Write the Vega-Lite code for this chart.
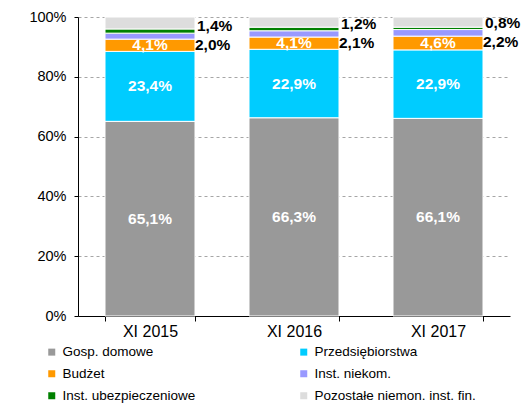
{
  "$schema": "https://vega.github.io/schema/vega-lite/v6.json",
  "autosize": {"type": "none"},
  "width": 432,
  "height": 299,
  "padding": {"left": 78, "top": 17, "right": 21, "bottom": 87},
  "background": "white",
  "title": {"text": "Struktura depozytów", "font": "Liberation Sans", "fontSize": 16, "fontWeight": "bold", "color": "black", "anchor": "middle", "dx": -37, "offset": 3, "baseline": "alphabetic"},
  "config": {"view": {"stroke": null}, "font": "Liberation Sans"},
  "data": {"values": [
    {"period": "XI 2015", "series": "Gosp. domowe", "ord": 1, "value": 65.1, "label": "65,1%"},
    {"period": "XI 2015", "series": "Przedsiębiorstwa", "ord": 2, "value": 23.4, "label": "23,4%"},
    {"period": "XI 2015", "series": "Budżet", "ord": 3, "value": 4.1, "label": "4,1%"},
    {"period": "XI 2015", "series": "Inst. niekom.", "ord": 4, "value": 2.0, "label": "2,0%"},
    {"period": "XI 2015", "series": "Inst. ubezpieczeniowe", "ord": 5, "value": 1.4, "label": "1,4%"},
    {"period": "XI 2015", "series": "Pozostałe niemon. inst. fin.", "ord": 6, "value": 4.0, "label": ""},
    {"period": "XI 2016", "series": "Gosp. domowe", "ord": 1, "value": 66.3, "label": "66,3%"},
    {"period": "XI 2016", "series": "Przedsiębiorstwa", "ord": 2, "value": 22.9, "label": "22,9%"},
    {"period": "XI 2016", "series": "Budżet", "ord": 3, "value": 4.1, "label": "4,1%"},
    {"period": "XI 2016", "series": "Inst. niekom.", "ord": 4, "value": 2.1, "label": "2,1%"},
    {"period": "XI 2016", "series": "Inst. ubezpieczeniowe", "ord": 5, "value": 1.2, "label": "1,2%"},
    {"period": "XI 2016", "series": "Pozostałe niemon. inst. fin.", "ord": 6, "value": 3.4, "label": ""},
    {"period": "XI 2017", "series": "Gosp. domowe", "ord": 1, "value": 66.1, "label": "66,1%"},
    {"period": "XI 2017", "series": "Przedsiębiorstwa", "ord": 2, "value": 22.9, "label": "22,9%"},
    {"period": "XI 2017", "series": "Budżet", "ord": 3, "value": 4.6, "label": "4,6%"},
    {"period": "XI 2017", "series": "Inst. niekom.", "ord": 4, "value": 2.2, "label": "2,2%"},
    {"period": "XI 2017", "series": "Inst. ubezpieczeniowe", "ord": 5, "value": 0.8, "label": "0,8%"},
    {"period": "XI 2017", "series": "Pozostałe niemon. inst. fin.", "ord": 6, "value": 3.4, "label": ""}
  ]},
  "encoding": {
    "x": {"field": "period", "type": "nominal", "sort": null,
      "scale": {"paddingInner": 0.375, "paddingOuter": 0.1875},
      "axis": {"title": null, "labelAngle": 0, "labelFontSize": 16, "labelColor": "black", "labelFont": "Liberation Sans", "domainColor": "black", "tickColor": "black", "tickBand": "extent", "tickSize": 5, "labelPadding": 2, "grid": false}},
    "y": {"field": "value", "type": "quantitative", "stack": "zero",
      "scale": {"domain": [0, 100], "nice": false},
      "axis": {"title": null, "values": [0, 20, 40, 60, 80, 100], "labelExpr": "datum.value + '%'", "labelFontSize": 14.5, "labelColor": "black", "labelFont": "Liberation Sans", "domainColor": "black", "tickColor": "black", "tickSize": 4, "labelPadding": 8, "grid": true, "gridColor": "#a6a6a6", "gridDash": [3, 3], "gridWidth": 1}},
    "order": {"field": "ord", "type": "quantitative"}
  },
  "layer": [
    {
      "mark": {"type": "bar", "stroke": "white", "strokeWidth": 1},
      "encoding": {
        "color": {"field": "series", "type": "nominal",
          "scale": {"domain": ["Gosp. domowe", "Przedsiębiorstwa", "Budżet", "Inst. niekom.", "Inst. ubezpieczeniowe", "Pozostałe niemon. inst. fin."],
                    "range": ["#999999", "#00ccff", "#ff9900", "#9999ff", "#008000", "#dddddd"]},
          "legend": {"title": null, "orient": "none", "legendX": -33, "legendY": 328, "direction": "horizontal", "columns": 2, "columnPadding": 101, "rowPadding": 7, "symbolType": "square", "symbolSize": 49, "symbolStrokeWidth": 0, "labelFontSize": 13.5, "labelColor": "black", "labelFont": "Liberation Sans", "labelOffset": 4, "labelLimit": 300, "padding": 0}}
      }
    },
    {
      "mark": {"type": "text", "color": "white", "fontWeight": "bold", "fontSize": 15.5, "baseline": "middle", "align": "center"},
      "encoding": {
        "y": {"field": "value", "type": "quantitative", "stack": "zero", "bandPosition": 0.5},
        "text": {"condition": {"test": "datum.ord <= 3", "field": "label"}, "value": ""}
      }
    },
    {
      "mark": {"type": "text", "color": "black", "fontWeight": "bold", "fontSize": 15.5, "baseline": "middle", "align": "left", "dx": 47, "dy": -5},
      "encoding": {
        "y": {"field": "value", "type": "quantitative", "stack": "zero", "bandPosition": 0.5},
        "text": {"condition": {"test": "datum.ord == 5", "field": "label"}, "value": ""}
      }
    },
    {
      "mark": {"type": "text", "color": "black", "fontWeight": "bold", "fontSize": 15.5, "baseline": "middle", "align": "left", "dx": 45, "dy": 9},
      "encoding": {
        "y": {"field": "value", "type": "quantitative", "stack": "zero", "bandPosition": 0.5},
        "text": {"condition": {"test": "datum.ord == 4", "field": "label"}, "value": ""}
      }
    }
  ]
}
